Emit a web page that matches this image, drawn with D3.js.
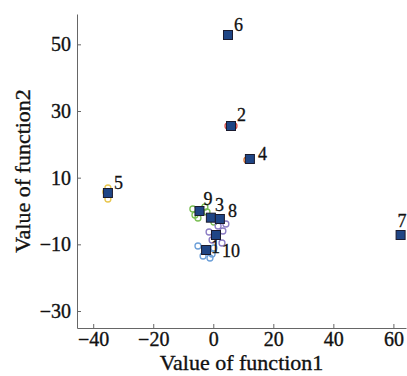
<!DOCTYPE html>
<html>
<head>
<meta charset="utf-8">
<script src="https://cdn.jsdelivr.net/npm/d3@7"></script>
<style>
  body { margin: 0; background: #fff; }
  svg { display: block; }
  .axis path, .axis line { stroke: #666; }
  .axis text { font-family: "Liberation Serif", serif; font-size: 20px; fill: #111; stroke: #111; stroke-width: 0.35px; }
  .lab { font-family: "Liberation Serif", serif; font-size: 22px; fill: #111; stroke: #111; stroke-width: 0.35px; }
  .num { font-family: "Liberation Serif", serif; font-size: 18px; fill: #111; stroke: #111; stroke-width: 0.3px; }
</style>
</head>
<body>
<svg width="407" height="376"></svg>
<script>
// group centroids (discriminant function values)
const groups = ['1', '2', '3', '4', '5', '6', '7', '8', '9', '10'];
const centX = [-2.4, 5.9, -0.8, 12.2, -35.1, 4.9, 62.4, 2.2, -4.6, 0.9];
const centY = [-11.7, 25.5, -2.0, 15.6, 5.4, 52.8, -7.2, -2.4, 0.0, -7.2];
const groupColor = ['#6c9fd8', '#d9534f', '#7bbf55', '#e07b39', '#e8c64e',
                    '#6c9fd8', '#6c9fd8', '#8b7cc4', '#7bbf55', '#8b7cc4'];

// individual samples
const sampleGroup = [0, 0, 0, 0, 0, 9, 9, 9, 9, 8, 8, 8, 8, 2, 2, 7, 7, 4, 4, 4, 1, 1, 3];
const sampleX = [-5.1, -0.4, -1.1, -3.4, 0.2, -1.4, 3.2, -0.4, 2.9, -6.1, -6.8, -2.8, -5.1,
                 -2.1, 0.2, 4.2, 1.6, -35.1, -35.1, -35.8, 4.9, 6.9, 11.2];
const sampleY = [-10.5, -12.9, -14.1, -13.5, -11.1, -6.3, -6.0, -8.7, -9.6, -1.2, 0.6, 1.2, -2.1,
                 -0.3, -3.3, -3.9, -4.5, 6.9, 3.6, 5.7, 25.5, 25.5, 15.3];

// label offsets from the centroid square (px)
const labelDx = [5, 6, 4, 8, 6, 6, -3, 8, 4, 6];
const labelDy = [3, -5, -7, 1, -4, -4, -8, -2, -6, 22];

const xTicks = [-40, -20, 0, 20, 40, 60];
const yTicks = [-30, -10, 10, 30, 50];

const margin = {top: 14, right: 1, bottom: 48, left: 77};
const width = 407, height = 376;

const svg = d3.select('svg');

const x = d3.scaleLinear()
    .domain([-45.4, 64.2])
    .range([margin.left, width - margin.right]);
const y = d3.scaleLinear()
    .domain([-35.1, 59.1])
    .range([height - margin.bottom, margin.top]);

// axes, ticks point inward
svg.append('g')
    .attr('class', 'axis')
    .attr('transform', 'translate(0,' + (height - margin.bottom) + ')')
    .call(d3.axisBottom(x).tickValues(xTicks).tickSizeInner(-4).tickSizeOuter(0).tickPadding(4)
        .tickFormat(d => d < 0 ? '\u2212' + Math.abs(d) : d));

svg.append('g')
    .attr('class', 'axis')
    .attr('transform', 'translate(' + margin.left + ',0)')
    .call(d3.axisLeft(y).tickValues(yTicks).tickSizeInner(-4).tickSizeOuter(0).tickPadding(6)
        .tickFormat(d => d < 0 ? '\u2212' + Math.abs(d) : d));

// samples as hollow circles
svg.append('g').selectAll('circle')
    .data(sampleX)
    .enter().append('circle')
    .attr('cx', (d, i) => x(d))
    .attr('cy', (d, i) => y(sampleY[i]))
    .attr('r', 3)
    .attr('fill', 'none')
    .attr('stroke', (d, i) => groupColor[sampleGroup[i]])
    .attr('stroke-width', 1.3);

// centroids as filled squares
const s = 9;
svg.append('g').selectAll('rect')
    .data(groups)
    .enter().append('rect')
    .attr('x', (d, i) => x(centX[i]) - s / 2)
    .attr('y', (d, i) => y(centY[i]) - s / 2)
    .attr('width', s)
    .attr('height', s)
    .attr('fill', '#1f4585')
    .attr('stroke', '#1a1a2e')
    .attr('stroke-width', 1);

svg.append('g').selectAll('text')
    .data(groups)
    .enter().append('text')
    .attr('class', 'num')
    .attr('x', (d, i) => x(centX[i]) + labelDx[i])
    .attr('y', (d, i) => y(centY[i]) + labelDy[i])
    .text(d => d);

// axis titles
svg.append('text')
    .attr('class', 'lab')
    .attr('x', (margin.left + width - margin.right) / 2)
    .attr('y', 370)
    .attr('text-anchor', 'middle')
    .text('Value of function1');

svg.append('text')
    .attr('class', 'lab')
    .attr('transform', 'translate(30,' + (margin.top + height - margin.bottom) / 2 + ') rotate(-90)')
    .attr('text-anchor', 'middle')
    .text('Value of function2');
</script>
</body>
</html>
